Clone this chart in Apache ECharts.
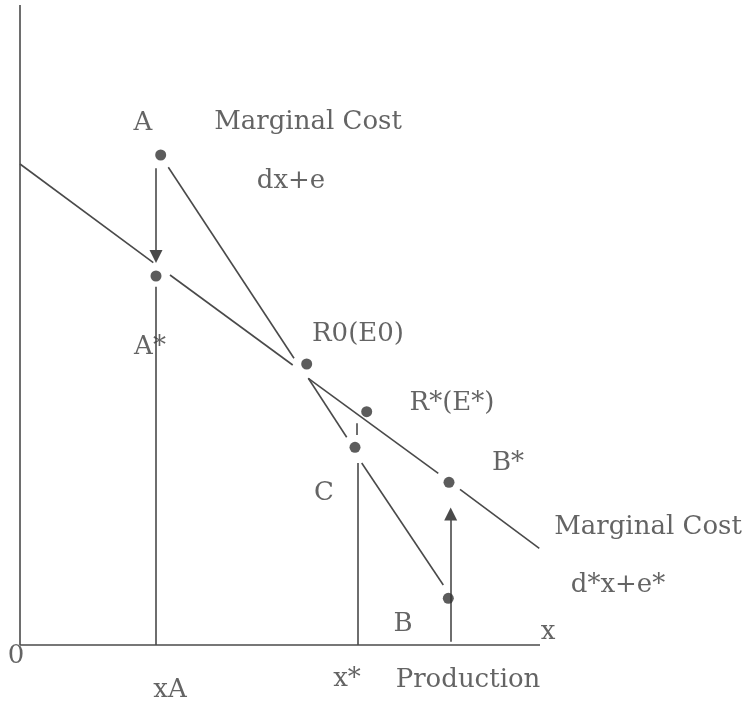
<!DOCTYPE html>
<html>
<head>
<meta charset="utf-8">
<script src="https://cdn.jsdelivr.net/npm/echarts@6/dist/echarts.min.js"></script>
<style>
html,body{margin:0;padding:0;background:#fff;}
#chart{width:744px;height:706px;}
</style>
</head>
<body>
<div id="chart"></div>
<script>
// Diagram coordinates (x = production, y = cost)
const pointNames = ['A', 'A*', 'R0', 'R*', 'C', 'B*', 'B'];
const pointX = [140.7, 136, 286.7, 346.7, 335, 429, 428.3];
const pointY = [490, 369, 281, 233.3, 197.7, 162.7, 46.7];

// Marginal cost dx+e (steep), drawn with small gaps round the points
const mcSegments = [
  [[148.3, 477.7], [274, 286.7]],
  [[288.3, 266.7], [326.7, 207.7]],
  [[341.7, 182], [423.3, 60]]
];
// Marginal cost d*x+e* (flatter)
const mcStarSegments = [
  [[0, 481], [133.3, 382.3]],
  [[150, 370], [272.7, 280]],
  [[288.3, 266.7], [418.3, 171.7]],
  [[440, 155.7], [519.3, 96.7]]
];
const axisSegments = [
  [[0, 0], [0, 640]],
  [[0, 0], [520, 0]]
];
const dropLines = [
  [[136, 358.3], [136, 0]],
  [[337.3, 182], [337.3, 0]]
];
const dashSegments = [
  [[336.7, 221.7], [336.7, 210]]
];
const arrowSegments = [
  [[136, 476.7], [136, 388.5]],
  [[430.7, 3.3], [430.7, 131]]
];

const labelTexts = ['A', 'Marginal Cost', 'dx+e', 'A*', 'R0(E0)', 'R*(E*)', 'B*', 'C',
  'Marginal Cost', 'd*x+e*', 'B', 'x', '0', 'xA', 'x*', 'Production'];
const labelX = [123, 308 - 20, 271, 130, 338, 432, 488, 304, 628, 598, 383, 528, -4, 150, 327, 448];
const labelY = [522, 523, 463.5, 298, 311, 242, 182, 152, 118, 59.5, 21, 13, -11.5, -45.5, -34, -35];

const LINE = '#4a4a4a';
const TEXT = '#3d3d3d';
const FONT = 'DejaVu Serif';

function segData(list) {
  return list.map(s => ({ coords: s }));
}
function linesSeries(list, extra) {
  return Object.assign({
    type: 'lines',
    coordinateSystem: 'cartesian2d',
    silent: true,
    symbol: 'none',
    lineStyle: { color: LINE, width: 1.6, opacity: 1 },
    data: segData(list),
    z: 2
  }, extra || {});
}

const chart = echarts.init(document.getElementById('chart'), null, { renderer: 'canvas' });
chart.setOption({
  animation: false,
  backgroundColor: '#ffffff',
  grid: { left: 0, right: 0, top: 5, bottom: 0, containLabel: false },
  xAxis: { type: 'value', min: -20, max: 724, show: false },
  yAxis: { type: 'value', min: -61, max: 640, show: false },
  series: [
    linesSeries(axisSegments),
    linesSeries(mcSegments),
    linesSeries(mcStarSegments),
    linesSeries(dropLines),
    linesSeries(dashSegments),
    linesSeries(arrowSegments, {
      symbol: ['none', 'triangle'],
      symbolSize: [14, 13],
      lineStyle: { color: LINE, width: 1.6, opacity: 1 }
    }),
    {
      type: 'scatter',
      silent: true,
      symbol: 'circle',
      symbolSize: 11,
      itemStyle: { color: '#333333' },
      data: pointX.map((x, i) => ({ name: pointNames[i], value: [x, pointY[i]] })),
      z: 4
    },
    {
      type: 'scatter',
      silent: true,
      clip: false,
      symbolSize: 0,
      label: {
        show: true,
        position: 'inside',
        align: 'center',
        verticalAlign: 'middle',
        fontFamily: FONT,
        fontSize: 26,
        color: TEXT,
        formatter: p => p.name
      },
      data: labelX.map((x, i) => ({ name: labelTexts[i], value: [x, labelY[i]] })),
      z: 5
    }
  ]
});
</script>
</body>
</html>
